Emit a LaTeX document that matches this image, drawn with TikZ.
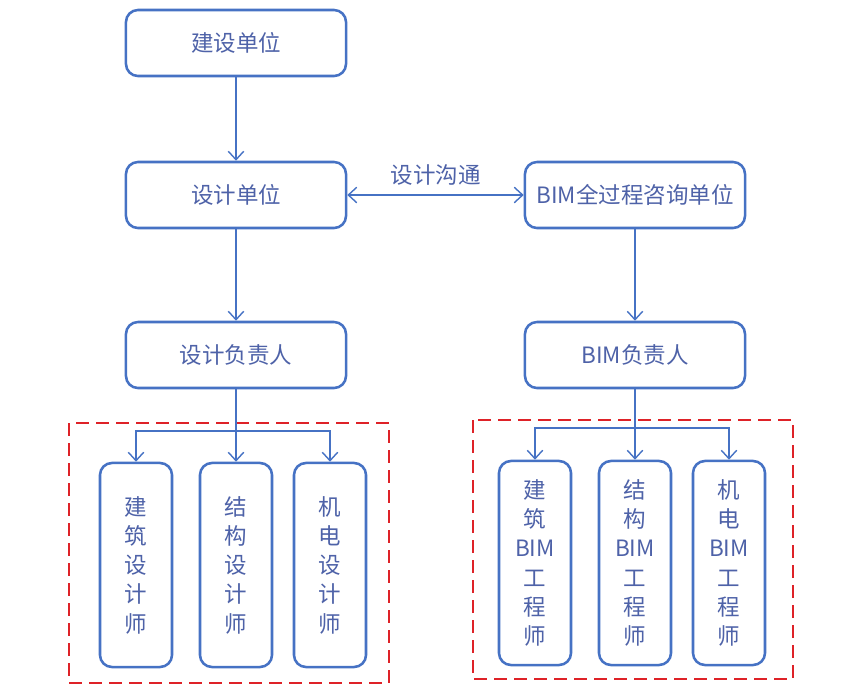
\documentclass[tikz,border=0pt]{standalone}
\usepackage{fontspec}
\setmainfont{Noto Sans CJK SC}
\usepackage{tikz}
\usetikzlibrary{arrows.meta,positioning,calc}
\usepackage{xcolor}
\definecolor{boxblue}{RGB}{70,114,196}
\definecolor{textblue}{RGB}{78,98,168}
\definecolor{groupred}{RGB}{222,34,40}

\tikzset{
    unitbox/.style={draw=boxblue, line width=1.8pt, rounded corners=0.3cm, fill=white,
        minimum width=5.5cm, minimum height=1.65cm, text=textblue,
        font=\fontsize{16}{19}\selectfont},
    staffbox/.style={draw=boxblue, line width=1.8pt, rounded corners=0.3cm, fill=white,
        minimum width=1.8cm, minimum height=5.1cm, text=textblue, align=center,
        font=\fontsize{16}{20.8}\selectfont},
    link/.style={draw=boxblue, line width=1pt, -{Straight Barb[length=6pt,width=11pt,line width=1pt]}},
    twoway/.style={draw=boxblue, line width=1pt,
        {Straight Barb[length=6pt,width=11pt,line width=1pt]}-{Straight Barb[length=6pt,width=11pt,line width=1pt]}},
    groupframe/.style={draw=groupred, line width=1.7pt, dash pattern=on 0.32cm off 0.18cm},
}

\begin{document}
\begin{tikzpicture}[x=0.025cm, y=-0.025cm]
    \useasboundingbox (0,0) rectangle (851,698);

    % --- Left column: design side ---
    \node[unitbox] (owner) at (236,43) {建设单位};
    \node[unitbox] (design) at (236,195) {设计单位};
    \node[unitbox] (dlead) at (236,355) {设计负责人};

    % --- Right column: BIM side ---
    \node[unitbox] (bim) at (635,195) {BIM全过程咨询单位};
    \node[unitbox] (blead) at (635,355) {BIM负责人};

    % --- Design staff group ---
    \draw[groupframe] (69,423) rectangle (389,683);
    \node[staffbox] (darch) at (136,565) {建\\筑\\设\\计\\师};
    \node[staffbox] (dstru) at (236,565) {结\\构\\设\\计\\师};
    \node[staffbox] (dmep) at (330,565) {机\\电\\设\\计\\师};

    % --- BIM staff group ---
    \draw[groupframe] (473,420) rectangle (793,679);
    \node[staffbox] (barch) at (535,563) {建\\筑\\BIM\\工\\程\\师};
    \node[staffbox] (bstru) at (635,563) {结\\构\\BIM\\工\\程\\师};
    \node[staffbox] (bmep) at (729,563) {机\\电\\BIM\\工\\程\\师};

    % --- Connectors ---
    \draw[link] (owner) -- (design);
    \draw[link] (design) -- (dlead);
    \draw[link] (bim) -- (blead);
    \draw[twoway] (design) -- (bim)
        node[midway, above=3pt, text=textblue, font=\fontsize{16}{19}\selectfont] (talk) {设计沟通};

    \coordinate (dfork) at (236,431);
    \draw[link] (dlead) -- (dstru);
    \draw[link] (dfork) -| (darch.north);
    \draw[link] (dfork) -| (dmep.north);

    \coordinate (bfork) at (635,428);
    \draw[link] (blead) -- (bstru);
    \draw[link] (bfork) -| (barch.north);
    \draw[link] (bfork) -| (bmep.north);
\end{tikzpicture}
\end{document}
